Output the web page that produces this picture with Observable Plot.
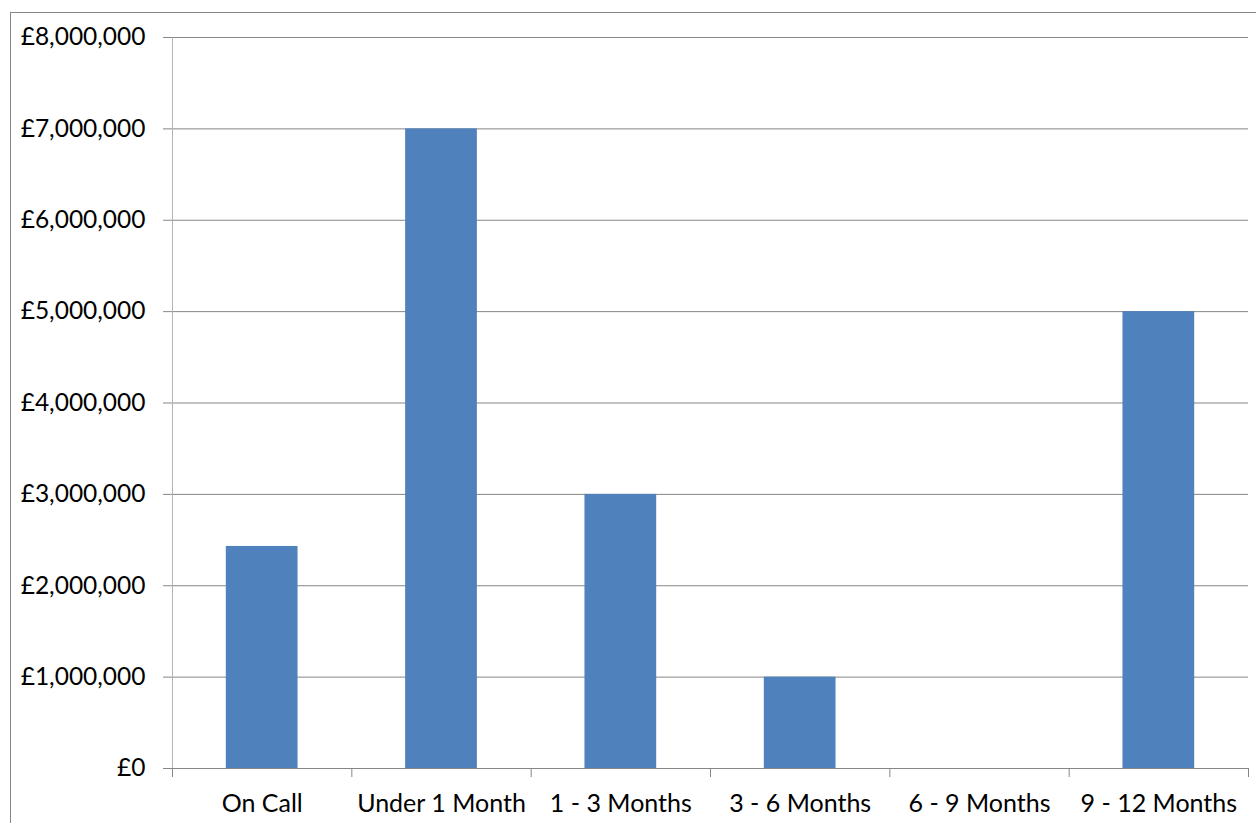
<!DOCTYPE html>
<html>
<head>
<meta charset="utf-8">
<script src="https://cdn.jsdelivr.net/npm/d3@7"></script>
<script src="https://cdn.jsdelivr.net/npm/@observablehq/plot@0.6"></script>
<style>
  html, body { margin: 0; padding: 0; background: #fff; overflow: hidden; }
  #wrap { position: relative; width: 1256px; height: 823px; }
  #border { position: absolute; left: 10px; top: 12px; width: 1400px; height: 1000px;
            border: 1px solid #868686; pointer-events: none; box-sizing: border-box; }
  svg { font-family: Lato, "Liberation Sans", sans-serif; }
</style>
</head>
<body>
<div id="wrap"><div id="border"></div></div>
<script>
// Amounts held by maturity band
const categories = ["On Call", "Under 1 Month", "1 - 3 Months", "3 - 6 Months", "6 - 9 Months", "9 - 12 Months"];
const amounts = [2430000, 7000000, 3000000, 1000000, 0, 5000000];
const yTicks = [0, 1000000, 2000000, 3000000, 4000000, 5000000, 6000000, 7000000, 8000000];

const rows = categories.map((c, i) => ({i, c, v: amounts[i]}));
const bounds = d3.range(categories.length + 1);
const money = d => "£" + d3.format(",")(d);

const chart = Plot.plot({
  width: 1256,
  height: 823,
  marginLeft: 172,
  marginRight: 8,
  marginTop: 37,
  marginBottom: 55,
  style: {fontSize: "24px", color: "#000", background: "transparent"},
  x: {domain: [0, categories.length], axis: null},
  y: {domain: [0, 8000000], axis: null},
  marks: [
    // horizontal gridlines with their outer tick marks
    Plot.ruleY(yTicks, {stroke: "#868686", strokeWidth: 1, insetLeft: -9}),
    // vertical value axis line
    Plot.ruleX([0], {y1: 8000000, y2: 0, insetBottom: -9, stroke: "#b4b4b4"}),
    // category boundary tick marks
    Plot.ruleX(bounds, {y1: 0, y2: 0, insetBottom: -9, stroke: "#868686"}),
    Plot.rectY(rows, {x1: d => d.i + 0.3, x2: d => d.i + 0.7, y: "v", fill: "#4f81bd"}),
    Plot.axisY({ticks: yTicks, tickFormat: money, tickSize: 0, tickPadding: 27, fontSize: 24.5, label: null}),
    Plot.text(rows, {x: d => d.i + 0.5, y: 0, text: "c", dy: 35, fontSize: 25, fill: "#000"})
  ]
});
document.getElementById("wrap").prepend(chart);
</script>
</body>
</html>
